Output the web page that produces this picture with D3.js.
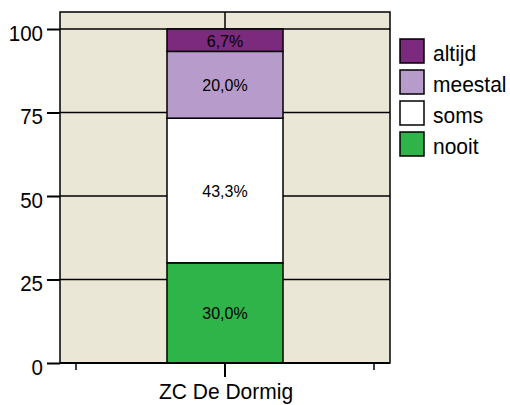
<!DOCTYPE html>
<html><head><meta charset="utf-8">
<script src="https://cdn.jsdelivr.net/npm/d3@7"></script>
<style>body{margin:0;background:#fff;} text{font-family:"Liberation Sans",Arial,sans-serif;}</style>
</head><body>
<svg id="c" width="510" height="405"></svg>
<script>
const categories = ["ZC De Dormig"];
const seriesNames = ["nooit","soms","meestal","altijd"];
const seriesValues = [30.0, 43.3, 20.0, 6.7];
const seriesLabels = ["30,0%","43,3%","20,0%","6,7%"];
const seriesColors = ["#2fb44a","#ffffff","#b79bca","#7b2a7e"];
const yTicks = [0,25,50,75,100];

const svg = d3.select("#c");
const L=60, R=390, T=12, B=363;
const SY = 1.08;
const y = d3.scaleLinear().domain([0,100]).range([B,29]);
const x = d3.scaleBand().domain(categories).range([76,374]);
const barW = 116;

function txt(px, py, s, size, anchor){
  return svg.append("text").attr("transform",`translate(${px},${py}) scale(1,${SY})`)
    .attr("text-anchor",anchor||"start").attr("font-size",size).attr("fill","#000").text(s);
}

svg.append("rect").attr("x",L).attr("y",T).attr("width",R-L).attr("height",B-T).attr("fill","#ebe7d7");
svg.selectAll(".g").data(yTicks.filter(d=>d>0)).enter().append("line")
  .attr("x1",L).attr("x2",R).attr("y1",d=>y(d)).attr("y2",d=>y(d)).attr("stroke","#000").attr("stroke-width",1.5);
const cx = x(categories[0]) + x.bandwidth()/2;
svg.append("line").attr("x1",cx).attr("x2",cx).attr("y1",T).attr("y2",y(100)).attr("stroke","#000").attr("stroke-width",1.5);

let cum=0;
const segs = seriesValues.map((v,i)=>{const s={v,i,y0:cum,y1:cum+v}; cum+=v; return s;});
segs.forEach(s=>{
  svg.append("rect").attr("x",cx-barW/2).attr("width",barW)
    .attr("y",y(s.y1)).attr("height",y(s.y0)-y(s.y1))
    .attr("fill",seriesColors[s.i]).attr("stroke","#000").attr("stroke-width",1.5);
  txt(cx, y((s.y0+s.y1)/2)+6.5, seriesLabels[s.i], 16, "middle");
});
svg.append("rect").attr("x",L).attr("y",T).attr("width",R-L).attr("height",B-T).attr("fill","none").attr("stroke","#000").attr("stroke-width",1.5);

// y axis
const yAxis = svg.append("g").attr("transform",`translate(${L},0)`)
  .call(d3.axisLeft(y).tickValues(yTicks).tickSize(13).tickFormat(""));
yAxis.select(".domain").remove();
yAxis.selectAll("line").attr("stroke","#000").attr("stroke-width",2);
yTicks.forEach(t=>txt(43, y(t)+11.5, String(t), 20.5, "end"));

// x axis
const xg = svg.append("g").attr("transform",`translate(0,${B})`);
xg.append("line").attr("x1",L).attr("x2",R).attr("stroke","#000").attr("stroke-width",2);
x.range().forEach(px=>xg.append("line").attr("x1",px).attr("x2",px).attr("y1",0).attr("y2",7).attr("stroke","#000").attr("stroke-width",1.5));
xg.append("line").attr("x1",cx).attr("x2",cx).attr("y1",0).attr("y2",14).attr("stroke","#000").attr("stroke-width",2);
txt(cx+1, 399, categories[0], 21, "middle");

// legend
const legOrder = [3,2,1,0];
legOrder.forEach((si,k)=>{
  const ly = 39 + k*31;
  svg.append("rect").attr("x",400).attr("y",ly).attr("width",24).attr("height",24)
    .attr("fill",seriesColors[si]).attr("stroke","#000").attr("stroke-width",1.5);
  txt(433, ly+22, seriesNames[si], 21, "start");
});
</script>
</body></html>
